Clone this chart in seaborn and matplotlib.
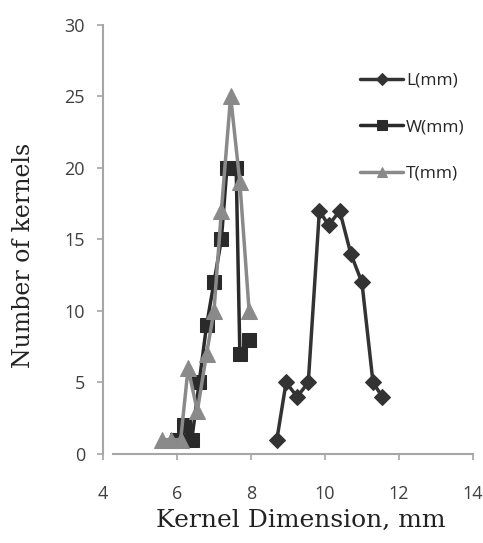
import pandas as pd
import matplotlib
matplotlib.use("Agg")
import matplotlib.pyplot as plt
import seaborn as sns

# values
l_x = [8.7, 8.95, 9.25, 9.55, 9.85, 10.1, 10.4, 10.7, 11.0, 11.3, 11.55]
l_y = [1, 5, 4, 5, 17, 16, 17, 14, 12, 5, 4]
w_x = [6.0, 6.2, 6.4, 6.6, 6.8, 7.0, 7.2, 7.35, 7.6, 7.7, 7.95]
w_y = [1, 2, 1, 5, 9, 12, 15, 20, 20, 7, 8]
t_x = [5.6, 5.85, 6.1, 6.3, 6.55, 6.8, 7.0, 7.2, 7.45, 7.7, 7.95]
t_y = [1, 1, 1, 6, 3, 7, 10, 17, 25, 19, 10]

series = [
    ("L(mm)", l_x, l_y, "#333333", "D", 8),
    ("W(mm)", w_x, w_y, "#2a2a2a", "s", 10.5),
    ("T(mm)", t_x, t_y, "#8a8a8a", "^", 11),
]

sns.set_style("white")

fig = plt.figure(figsize=(4.83, 5.43), dpi=100)
ax = fig.add_axes([0.2133, 0.164, 0.7657, 0.79])

for name, xs, ys, col, mk, ms in series:
    df = pd.DataFrame({"x": xs, "y": ys})
    sns.lineplot(data=df, x="x", y="y", ax=ax, color=col, marker=mk,
                 markersize=ms, markeredgecolor=col, markerfacecolor=col,
                 linewidth=2.5, label=name, sort=False)

ax.set_xlim(4, 14)
ax.set_ylim(0, 30)
ax.set_xticks([4, 6, 8, 10, 12, 14])
ax.set_yticks([0, 5, 10, 15, 20, 25, 30])

for s in ["top", "right"]:
    ax.spines[s].set_visible(False)
for s in ["left", "bottom"]:
    ax.spines[s].set_color("#a6a6a6")
    ax.spines[s].set_linewidth(1.5)
ax.spines["bottom"].set_bounds(4.27, 14)

ax.tick_params(axis="both", direction="out", length=4, width=1.2,
               color="#a6a6a6", labelsize=13, labelcolor="#404040",
               left=True, bottom=True)
ax.tick_params(axis="y", pad=9)
ax.tick_params(axis="x", pad=18)
for lab in ax.get_xticklabels() + ax.get_yticklabels():
    lab.set_family("Open Sans")

ax.set_xlabel("Kernel Dimension, mm", family="DejaVu Serif", fontsize=18,
              color="#222222")
ax.set_ylabel("Number of kernels", family="DejaVu Serif", fontsize=17,
              color="#222222")
ax.xaxis.set_label_coords(0.535, -0.128)
ax.yaxis.set_label_coords(-0.183, 0.464)

leg = ax.legend(loc="upper right", bbox_to_anchor=(1.02, 0.925), frameon=False,
                handlelength=2.5, handletextpad=0.15, labelspacing=1.75,
                prop={"family": "Open Sans", "size": 12.5})
for h in leg.legend_handles:
    h.set_markersize(6.5)
    h.set_linewidth(2.5)

fig.savefig("out.png", dpi=100)
